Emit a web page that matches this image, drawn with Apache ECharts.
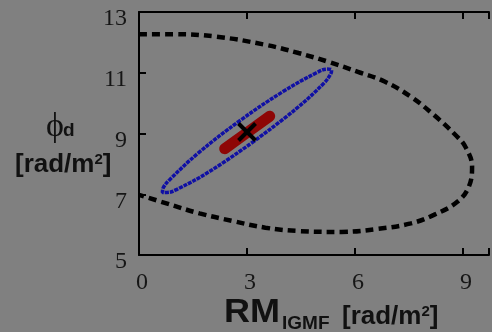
<!DOCTYPE html>
<html>
<head>
<meta charset="utf-8">
<script src="https://cdn.jsdelivr.net/npm/echarts@6/dist/echarts.min.js"></script>
<style>
html, body { margin: 0; padding: 0; background: #808080; }
#main { width: 492px; height: 332px; }
</style>
</head>
<body>
<div id="main"></div>
<script>
//外部虚线轮廓
var outerX = [0.0, 0.94, 2.14, 3.51, 4.43, 5.26, 6.08, 6.82, 7.55, 8.19, 8.79, 9.06, 9.25, 9.16, 8.84, 8.19, 7.55, 6.63, 5.62, 4.43, 3.51, 2.60, 1.68, 0.76, 0.0];
var outerY = [12.27, 12.27, 12.19, 11.92, 11.65, 11.36, 11.03, 10.71, 10.21, 9.61, 8.95, 8.57, 7.91, 7.25, 6.75, 6.32, 6.04, 5.86, 5.76, 5.79, 5.90, 6.12, 6.37, 6.70, 6.98];

//蓝色椭圆
var blueX = [3.20, 2.00, 1.07, 0.78, 0.65, 0.68, 0.87, 1.65, 2.80, 4.00, 4.93, 5.22, 5.35, 5.32, 5.14, 4.35, 3.20];
var blueY = [8.75, 7.78, 7.17, 7.06, 7.06, 7.23, 7.50, 8.36, 9.42, 10.38, 11.00, 11.12, 11.09, 10.95, 10.66, 9.80, 8.75];

//红色区域
var redX = [2.38, 3.0, 3.63];
var redY = [8.50, 9.03, 9.57];

//最佳拟合点
var bestX = [3.0];
var bestY = [9.05];

//刻度
var xTicks = [0, 3, 6, 9];
var yTicks = [5, 7, 9, 11, 13];

function pairs(xs, ys) {
    var out = [];
    for (var i = 0; i < xs.length; i++) {
        out.push([xs[i], ys[i]]);
    }
    return out;
}

var chart = echarts.init(document.getElementById("main"));

var axisLine = { show: true, lineStyle: { color: "#000", width: 2 } };
var axisTick = { show: true, inside: true, length: 7, lineStyle: { color: "#000", width: 2 } };
var titleRich = {
    b: { fontFamily: "Liberation Sans", fontWeight: "bold", fontSize: 26, fill: "#111" },
    u: { fontFamily: "Liberation Sans", fontWeight: "bold", fontSize: 15, fill: "#111", verticalAlign: "top" }
};

//十字标记
function renderCross(params, api) {
    var p = api.coord([api.value(0), api.value(1)]);
    var r = 8.5;
    var st = { stroke: "#000", lineWidth: 4 };
    return {
        type: "group",
        children: [
            { type: "line", shape: { x1: p[0] - r, y1: p[1] - r, x2: p[0] + r, y2: p[1] + r }, style: st },
            { type: "line", shape: { x1: p[0] + r, y1: p[1] - r, x2: p[0] - r, y2: p[1] + r }, style: st }
        ]
    };
}

var option = {
    backgroundColor: "#808080",
    animation: false,
    grid: { left: 139, right: 0, top: 12, bottom: 77 },
    xAxis: [
        {
            type: "value", position: "bottom", min: 0, max: 9.72, interval: 3,
            axisLine: axisLine, axisTick: axisTick, splitLine: { show: false },
            axisLabel: {
                fontFamily: "Liberation Serif", fontSize: 24, color: "#161616",
                margin: 16,
                formatter: function(v) { return xTicks.indexOf(v) >= 0 ? " " + v : ""; }
            }
        },
        {
            type: "value", position: "top", min: 0, max: 9.72, interval: 3,
            axisLine: axisLine, axisTick: axisTick, splitLine: { show: false },
            axisLabel: { show: false }
        }
    ],
    yAxis: {
        type: "value", min: 5, max: 13, interval: 2,
        axisLine: axisLine, axisTick: axisTick, splitLine: { show: false },
        axisLabel: {
            fontFamily: "Liberation Serif", fontSize: 24, color: "#161616",
            margin: 12, verticalAlign: "top", lineHeight: 14,
            formatter: function(v) { return yTicks.indexOf(v) >= 0 ? String(v) : ""; }
        }
    },
    graphic: [
        {
            type: "text", x: 46, y: 127,
            style: { text: "ϕ", font: "34px 'Liberation Serif'", fill: "#111", verticalAlign: "middle" }
        },
        {
            type: "text", x: 63, y: 131,
            style: { text: "d", font: "bold 19px 'Liberation Sans'", fill: "#111", verticalAlign: "middle" }
        },
        {
            type: "text", left: 15, top: 152,
            style: { text: "{b|[rad/m}{u|2}{b|]}", rich: titleRich }
        },
        {
            type: "text", left: 224, top: 296, scaleX: 1.06,
            style: { text: "RM", font: "bold 34px 'Liberation Sans'", fill: "#111" }
        },
        {
            type: "text", left: 282, top: 314,
            style: { text: "IGMF", font: "bold 19px 'Liberation Sans'", fill: "#111" }
        },
        {
            type: "text", left: 342, top: 304,
            style: { text: "{b|[rad/m}{u|2}{b|]}", rich: titleRich }
        }
    ],
    series: [
        {
            name: "outer", type: "line", data: pairs(outerX, outerY),
            showSymbol: false, smooth: 0.4, z: 2,
            lineStyle: { color: "#000", width: 4.5, type: [8, 5] }
        },
        {
            name: "blue", type: "line", data: pairs(blueX, blueY),
            showSymbol: false, smooth: 0.4, z: 3,
            lineStyle: { color: "#1010a4", width: 3.5, type: [4, 1] }
        },
        {
            name: "red", type: "line", data: pairs(redX, redY),
            showSymbol: false, z: 4,
            lineStyle: { color: "#8e0606", width: 11, cap: "round" }
        },
        {
            name: "best", type: "custom", data: pairs(bestX, bestY),
            renderItem: renderCross, z: 10
        }
    ]
};

chart.setOption(option);
</script>
</body>
</html>
